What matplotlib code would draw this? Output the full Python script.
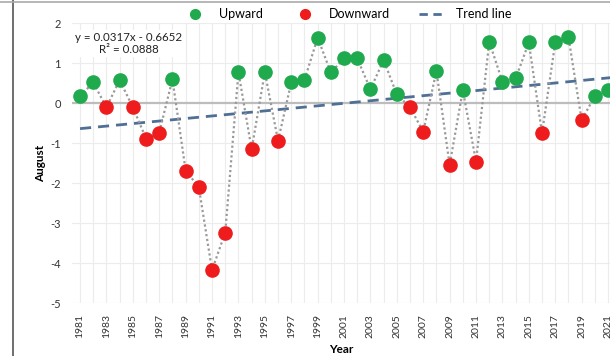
import matplotlib
matplotlib.use("Agg")
import matplotlib.pyplot as plt
from matplotlib.lines import Line2D
import numpy as np

plt.rcParams['font.family'] = ['Lato', 'DejaVu Sans']
plt.rcParams['axes.unicode_minus'] = False

years = list(range(1981, 2022))
values = [0.18, 0.52, -0.10, 0.58, -0.10, -0.88, -0.73, 0.60, -1.68, -2.10,
          -4.17, -3.23, 0.78, -1.15, 0.78, -0.94, 0.52, 0.58, 1.64, 0.77,
          1.12, 1.12, 0.35, 1.08, 0.22, -0.10, -0.71, 0.81, -1.54, 0.33,
          -1.46, 1.54, 0.54, 0.62, 1.52, -0.75, 1.52, 1.66, -0.42, 0.18,
          0.33]
trend_slope = 0.0317
trend_intercept = -0.6652
equation_text = "y = 0.0317x - 0.6652\nR² = 0.0888"
xtick_years = list(range(1981, 2022, 2))
yticks = [2, 1, 0, -1, -2, -3, -4, -5]

green = '#1faa4e'
red = '#ee1c1c'

fig = plt.figure(figsize=(6.10, 3.56), dpi=100)
ax = fig.add_axes([72/610, 1-303.3/356, 538/610, (303.3-23.3)/356])

yrs = np.array(years)
vals = np.array(values)

# grid
for yv in yticks:
    if yv != 0:
        ax.axhline(yv, color='#ececec', lw=0.8, zorder=0)
for yr in years:
    ax.axvline(yr, color='#ececec', lw=0.8, zorder=0)
ax.axhline(0, color='#bdbdbd', lw=1.6, zorder=1)

# trend line
t_idx = np.array([1, 45])
t_x = years[0] + t_idx - 1
ax.plot(t_x, trend_slope*t_idx + trend_intercept, ls=(0, (4, 2.5)),
        color='#4f6f95', lw=2.0, zorder=2)

# connecting dotted line
ax.plot(yrs, vals, ls=(0, (1, 1.2)), color='#9a9a9a', lw=1.6, zorder=3)

up = vals >= 0
ax.plot(yrs[up], vals[up], 'o', color=green, ms=9.5, mec=green, zorder=4)
ax.plot(yrs[~up], vals[~up], 'o', color=red, ms=9.5, mec=red, zorder=4)

ax.set_xlim(1980.39, 2021.15)
ax.set_ylim(-5, 2)
ax.set_xticks(xtick_years)
ax.set_xticklabels([str(y) for y in xtick_years], rotation=90, fontsize=7.5,
                   color='#333333')
ax.set_yticks(yticks)
ax.set_yticklabels([str(v) for v in yticks], fontsize=8, color='#333333')
ax.tick_params(length=0, pad=8)
for s in ax.spines.values():
    s.set_visible(False)

ax.set_xlabel('Year', fontsize=8.5, fontweight='bold', labelpad=4)
ax.set_ylabel('August', fontsize=8.5, fontweight='bold', labelpad=3)

fig.text(129/610, 1-43.5/356, equation_text, ha='center', va='center',
         fontsize=8.3, color='#222222', linespacing=1.2,
         bbox=dict(facecolor='white', edgecolor='none', pad=1))

handles = [
    Line2D([], [], marker='o', ls='none', color=green, ms=7),
    Line2D([], [], marker='o', ls='none', color=red, ms=7),
    Line2D([], [], ls=(0, (3, 2)), color='#4f6f95', lw=2),
]
fig.legend(handles, ['Upward', 'Downward', 'Trend line'], loc='center',
           bbox_to_anchor=(0.568, 1-14/356), ncol=3, frameon=False,
           fontsize=9, handlelength=2.2, columnspacing=2.3, handletextpad=0.8)

fig.add_artist(Line2D([13/610, 13/610], [0, 1], transform=fig.transFigure,
                      color='#555555', lw=1.2))
fig.add_artist(Line2D([0, 1], [1-1.5/356, 1-1.5/356], transform=fig.transFigure,
                      color='#aaaaaa', lw=1.2))

fig.savefig('out.png', dpi=100)
